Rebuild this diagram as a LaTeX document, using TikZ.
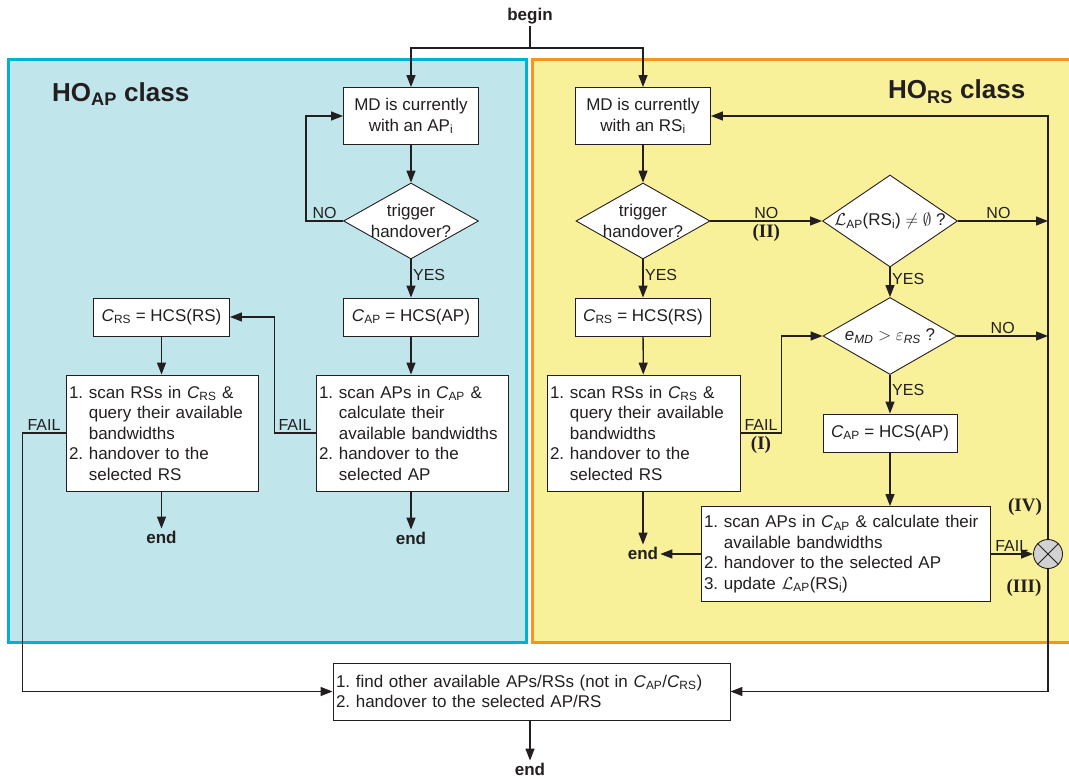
\documentclass[tikz,border=0pt]{standalone}
\usepackage{fontspec}
\setmainfont{Liberation Sans}
\newfontfamily\romfont{Liberation Serif}
\usetikzlibrary{arrows.meta,shapes.geometric,calc}
\definecolor{bluefill}{RGB}{192,230,236}
\definecolor{blueline}{RGB}{0,178,210}
\definecolor{yelfill}{RGB}{249,240,154}
\definecolor{orline}{RGB}{247,148,30}
\definecolor{ink}{RGB}{35,31,32}
\frenchspacing
\begin{document}
\begin{tikzpicture}[x=1pt,y=-1pt,
  every node/.style={font=\fontsize{17}{20.5}\selectfont, text=ink},
  box/.style={draw=ink, line width=0.9pt, fill=white, inner sep=3pt, align=center},
  listbox/.style={box, align=left},
  dia/.style={draw=ink, line width=0.9pt, fill=white, diamond, inner sep=0pt},
  arr/.style={draw=ink, line width=1.3pt, -{Triangle[length=12pt,width=9pt]}},
  ln/.style={draw=ink, line width=1.3pt},
  lbl/.style={font=\fontsize{16}{18}\selectfont, inner sep=1.5pt},
  rom/.style={font=\romfont\bfseries\fontsize{19}{21}\selectfont, inner sep=1pt},
  romb/.style={rom, inner sep=3pt},
  endtxt/.style={font=\bfseries\fontsize{17}{20}\selectfont, inner sep=2pt},
  ttl/.style={font=\bfseries\fontsize{26}{30}\selectfont, inner sep=0pt}
]
\useasboundingbox (0,0) rectangle (1069,778);
\clip (0,0) rectangle (1069,778);

% panels
\draw[blueline, fill=bluefill, line width=3pt] (8,60) rectangle (526,642);
\draw[orline, fill=yelfill, line width=3pt] (532,60) rectangle (1090,642);
\node[ttl, anchor=base west] (tap) at (52,102) {HO\textsubscript{AP} class};
\node[ttl, anchor=base west] (trs) at (888,99) {HO\textsubscript{RS} class};

% begin
\node[endtxt] (begin) at (530,16) {begin};
\coordinate (j) at (530,48);

% left column
\node[box, minimum width=135pt, minimum height=57pt] (a1) at (411,116) {MD is currently\\with an AP\textsubscript{i}};
\node[dia, minimum width=135pt, minimum height=76pt, label={[align=center]center:{trigger\\handover?}}] (ad) at (411,221) {};
\node[box, minimum width=135pt, minimum height=38pt] (acap) at (411,317) {\textit{C}\textsubscript{AP} = HCS(AP)};
\node[listbox, text width=186pt, minimum height=116pt] (ascan) at (412,433) {1. scan APs in \textit{C}\textsubscript{AP} \&\\\hphantom{1. }calculate their\\\hphantom{1. }available bandwidths\\2. handover to the\\\hphantom{2. }selected AP};
\node[endtxt] (aend) at (411,538) {end};

\node[box, minimum width=136pt, minimum height=38pt] (acrs) at (161.5,317) {\textit{C}\textsubscript{RS} = HCS(RS)};
\node[listbox, text width=186pt, minimum height=116pt] (arscan) at (162,433) {1. scan RSs in \textit{C}\textsubscript{RS} \&\\\hphantom{1. }query their available\\\hphantom{1. }bandwidths\\2. handover to the\\\hphantom{2. }selected RS};
\node[endtxt] (arend) at (161.5,537) {end};

% right column
\node[box, minimum width=135pt, minimum height=57pt] (b1) at (643,116) {MD is currently\\with an RS\textsubscript{i}};
\node[dia, minimum width=134pt, minimum height=76pt, label={[align=center]center:{trigger\\handover?}}] (bd1) at (643,221) {};
\node[dia, minimum width=135pt, minimum height=92pt, label={center:{$\mathcal{L}$\textsubscript{AP}(RS\textsubscript{i}) $\neq\emptyset$ ?}}] (bd2) at (890,221) {};
\node[dia, minimum width=134pt, minimum height=77pt, label={center:{\textit{e}\textsubscript{\textit{MD}} $>$ $\varepsilon$\textsubscript{\textit{RS}} ?}}] (bd3) at (890,336) {};
\node[box, minimum width=135pt, minimum height=38pt] (bcrs) at (643,317) {\textit{C}\textsubscript{RS} = HCS(RS)};
\node[listbox, text width=187pt, minimum height=116pt] (bscan) at (643.5,433) {1. scan RSs in \textit{C}\textsubscript{RS} \&\\\hphantom{1. }query their available\\\hphantom{1. }bandwidths\\2. handover to the\\\hphantom{2. }selected RS};
\node[endtxt] (bend) at (643,553) {end};
\node[box, minimum width=134pt, minimum height=38pt] (bcap) at (890,433) {\textit{C}\textsubscript{AP} = HCS(AP)};
\node[listbox, text width=283pt, minimum height=95pt] (bscan2) at (845.5,554) {1. scan APs in \textit{C}\textsubscript{AP} \& calculate their\\\hphantom{1. }available bandwidths\\2. handover to the selected AP\\3. update $\mathcal{L}$\textsubscript{AP}(RS\textsubscript{i})};

% bottom
\node[listbox, text width=391pt, minimum height=57pt] (fbox) at (531.5,691.5) {1. find other available APs/RSs (not in \textit{C}\textsubscript{AP}/\textit{C}\textsubscript{RS})\\2. handover to the selected AP/RS};
\node[endtxt] (fend) at (530,769) {end};

% junction circle
\node[circle, draw=ink, line width=0.9pt, fill=gray!35, minimum size=29pt, inner sep=0pt] (circ) at (1048,554) {};
\draw[ink, line width=0.9pt] (circ.north west) -- (circ.south east) (circ.north east) -- (circ.south west);

% connectors: top
\draw[ln] (begin) -- (j);
\draw[arr] (j) -| (a1.north);
\draw[arr] (j) -| (b1.north);

% left connectors
\draw[arr] (a1) -- (ad);
\draw[arr] (ad.west) -- ++(-37,0) node[lbl, midway, above]{NO} |- (a1.west);
\draw[arr] (ad.south) -- node[lbl, right, pos=0.4]{YES} (acap.north);
\draw[arr] (acap.south) -- (acap.south |- ascan.north);
\draw[arr] (ascan.south -| aend) -- (aend.north);
\draw[arr] (ascan.west) -- ++(-41,0) node[lbl, midway, above]{FAIL} |- (acrs.east);
\draw[arr] (acrs.south) -- (acrs.south |- arscan.north);
\draw[arr] (arscan.south -| arend) -- (arend.north);
\draw[arr] (arscan.west) -- ++(-43,0) node[lbl, midway, above]{FAIL} |- (fbox.west);

% right connectors
\draw[arr] (b1) -- (bd1);
\draw[arr] (bd1.south) -- node[lbl, right, pos=0.4]{YES} (bcrs.north);
\draw[arr] (bcrs) -- (bscan);
\draw[arr] (bscan.south -| bend) -- (bend.north);
\draw[arr] (bd1.east) -- node[lbl, above]{NO} node[romb, below]{(II)} (bd2.west);
\draw[arr] (bd2.east) -- node[lbl, above, pos=0.45]{NO} (bd2.east -| circ);
\draw[arr] (bd2.south) -- node[lbl, right, pos=0.4]{YES} (bd3.north);
\draw[arr] (bd3.east) -- node[lbl, above, pos=0.5]{NO} (bd3.east -| circ);
\draw[arr] (bd3.south) -- node[lbl, right, pos=0.4]{YES} (bcap.north);
\draw[arr] (bcap.south) -- (bcap.south |- bscan2.north);
\draw[arr] (bscan.east) -- ++(41,0) node[lbl, midway, above]{FAIL} node[romb, midway, below]{(I)} |- (bd3.west);
\draw[arr] (bscan2.west) -- (bscan2.west -| bend.east);
\draw[arr] (bscan2.east) -- node[lbl, above]{FAIL} (circ.west);
\node[rom] (r4) at ($(circ)+(-23,-47)$) {(IV)};
\node[rom] (r3) at ($(circ)+(-24,34)$) {(III)};
\draw[arr] (circ.north) |- (b1.east);
\draw[arr] (circ.south) |- (fbox.east);
\draw[arr] (fbox.south -| fend) -- (fend.north);
\end{tikzpicture}
\end{document}
